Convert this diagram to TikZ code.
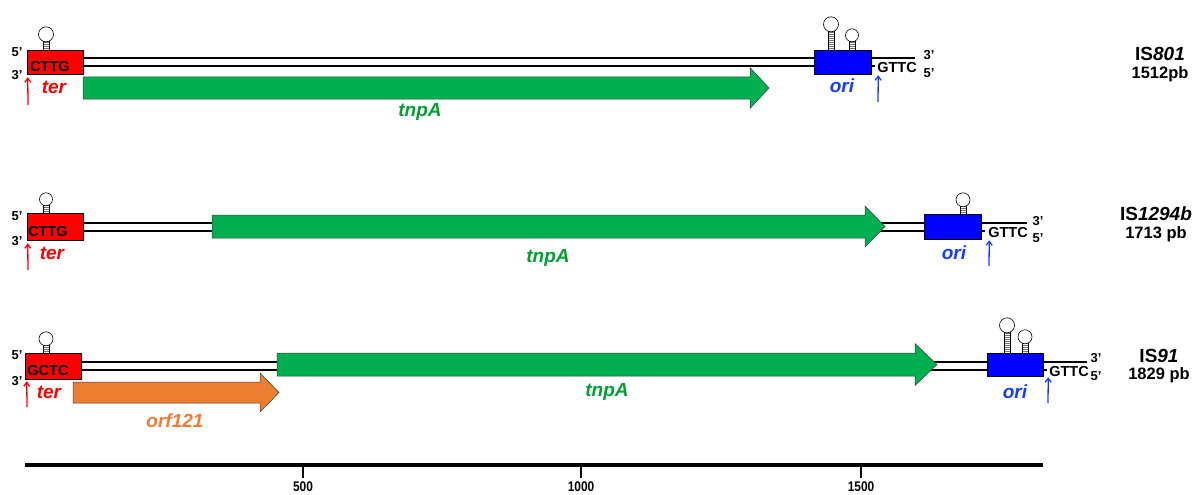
\documentclass[tikz,border=0pt]{standalone}
\usepackage{fontspec}
\setmainfont{Liberation Sans}
\usetikzlibrary{arrows.meta}
\definecolor{terred}{RGB}{255, 0, 0}
\definecolor{oriblue}{RGB}{0, 0, 255}
\definecolor{oritext}{RGB}{20, 60, 255}
\definecolor{tnpfill}{RGB}{0, 176, 80}
\definecolor{tnptext}{RGB}{0, 160, 50}
\definecolor{orffill}{RGB}{237, 125, 49}
\definecolor{outlinecolor}{RGB}{60, 60, 60}
\tikzset{
seqtext/.style={
  font=\fontsize{14.5}{14.5}\selectfont\bfseries,
  inner sep=0pt
},
endtext/.style={
  font=\fontsize{13}{13}\selectfont\bfseries,
  inner sep=0pt
},
featurelabel/.style={
  font=\fontsize{19}{19}\selectfont\bfseries\itshape,
  inner sep=0pt
},
islabel/.style={
  font=\fontsize{19}{19}\selectfont\bfseries,
  inner sep=0pt
},
sizelabel/.style={
  font=\fontsize{16.5}{16.5}\selectfont\bfseries,
  inner sep=0pt
},
terbox/.style={
  draw=black,
  line width=0.5pt,
  fill=terred,
  inner sep=0pt
},
oribox/.style={
  draw=black,
  line width=0.5pt,
  fill=oriblue,
  inner sep=0pt
},
strand/.style={
  draw=black,
  line width=1.6pt
},
genearrow/.style={
  draw=outlinecolor,
  line width=0.5pt,
  fill=tnpfill
},
orfarrow/.style={
  genearrow,
  fill=orffill
},
tersite/.style={
  -{Straight Barb[length=4pt,width=6pt]},
  line width=1.3pt,
  draw=terred
},
orisite/.style={
  tersite,
  draw=oritext
},
hairpinline/.style={
  draw=black,
  line width=0.6pt
},
rungline/.style={
  draw=black!55,
  line width=0.5pt
},
scaletext/.style={
  font=\fontsize{14}{14}\selectfont\bfseries,
  inner sep=0pt
}
}
% x, base y, stem length, loop radius
\newcommand\hairpin[4]{%
  \foreach \k in {2,4,...,#3} \draw[rungline] (#1-3,#2-\k) -- (#1+3,#2-\k);
  \draw[hairpinline] (#1-3,#2) -- (#1-3,#2-#3) (#1+3,#2) -- (#1+3,#2-#3);
  \draw[hairpinline, fill=white] (#1,#2-#3-#4+0.8) circle[radius=#4pt];
}

\begin{document}
\begin{tikzpicture}[x=1pt, y=-1pt]
  \useasboundingbox (0,0) rectangle (1197,495);

  % --- IS801 ---
  \def\c{62}
  \draw[strand] (83,\c-4) -- (915,\c-4);
  \draw[strand] (83,\c+4) -- (875,\c+4);
  \draw[genearrow] (83,77) -- (750,77) -- (750,67.5) -- (769,88) -- (750,108.5)
    -- (750,99) -- (83,99) -- cycle;
  \node[terbox, minimum width=56pt, minimum height=24pt] (ter1) at (55,\c) {};
  \node[oribox, minimum width=57pt, minimum height=24pt] (ori1) at (842.5,\c) {};
  \hairpin{46}{50}{9}{7.5}
  \hairpin{831}{50}{19}{7.5}
  \hairpin{852}{50}{9}{6.5}
  \node[seqtext] (seq1) at (50,67) {CTTG};
  \node[endtext] (five1) at (17,52) {5’};
  \node[endtext] (three1) at (17,75) {3’};
  \node[seqtext] (gttc1) at (897,68) {GTTC};
  \node[endtext] (three1r) at (929,55) {3’};
  \node[endtext] (five1r) at (929,73) {5’};
  \node[featurelabel, text=terred] (terl1) at (54,87) {ter};
  \node[featurelabel, text=tnptext] (tnpl1) at (420,112) {tnpA};
  \node[featurelabel, text=oritext] (oril1) at (842,86) {ori};
  \coordinate (terS1) at (28,105);
  \coordinate (oriS1) at (878,102);
  \draw[tersite] (terS1) -- ([xshift=1pt,yshift=-3pt]ter1.south west);
  \draw[orisite] (oriS1) -- ([xshift=7pt,yshift=-1pt]ori1.south east);
  \node[islabel] (is1) at (1160,54) {IS\textit{801}};
  \node[sizelabel] (len1) at (1160,74) {1512pb};

  % --- IS1294b ---
  \def\c{227}
  \draw[strand] (83,\c-4) -- (1027,\c-4);
  \draw[strand] (83,\c+4) -- (985,\c+4);
  \draw[genearrow] (212,215) -- (865,215) -- (865,206) -- (885,226.5) -- (865,247)
    -- (865,238) -- (212,238) -- cycle;
  \node[terbox, minimum width=56pt, minimum height=27pt] (ter2) at (55,226.5) {};
  \node[oribox, minimum width=57pt, minimum height=25pt] (ori2) at (952.5,226.5) {};
  \hairpin{46}{213}{8}{6.5}
  \hairpin{963}{214}{8}{7}
  \node[seqtext] (seq2) at (48,232) {CTTG};
  \node[endtext] (five2) at (17,216) {5’};
  \node[endtext] (three2) at (17,241) {3’};
  \node[seqtext] (gttc2) at (1008,233) {GTTC};
  \node[endtext] (three2r) at (1038,221) {3’};
  \node[endtext] (five2r) at (1038,238) {5’};
  \node[featurelabel, text=terred] (terl2) at (52,253) {ter};
  \node[featurelabel, text=tnptext] (tnpl2) at (548,258) {tnpA};
  \node[featurelabel, text=oritext] (oril2) at (954,253) {ori};
  \coordinate (terS2) at (28,270);
  \coordinate (oriS2) at (989,266);
  \draw[tersite] (terS2) -- ([xshift=1pt,yshift=-3pt]ter2.south west);
  \draw[orisite] (oriS2) -- ([xshift=8pt,yshift=-1pt]ori2.south east);
  \node[islabel] (is2) at (1156,214) {IS\textit{1294b}};
  \node[sizelabel] (len2) at (1156,234) {1713 pb};

  % --- IS91 ---
  \def\c{366}
  \draw[strand] (81,\c-4) -- (1087,\c-4);
  \draw[strand] (81,\c+4) -- (1047,\c+4);
  \draw[orfarrow] (73,382) -- (260,382) -- (260,373) -- (279,392.5) -- (260,412)
    -- (260,403) -- (73,403) -- cycle;
  \draw[genearrow] (277,353) -- (915,353) -- (915,343.5) -- (937,364.5) -- (915,385.5)
    -- (915,376) -- (277,376) -- cycle;
  \node[terbox, minimum width=56pt, minimum height=26pt] (ter3) at (53,366) {};
  \node[oribox, minimum width=56pt, minimum height=23pt] (ori3) at (1015,364.5) {};
  \hairpin{46}{353}{8}{7}
  \hairpin{1007}{353}{21}{7.5}
  \hairpin{1025}{353}{10}{7}
  \node[seqtext] (seq3) at (48,371) {GCTC};
  \node[endtext] (five3) at (17,355) {5’};
  \node[endtext] (three3) at (17,381) {3’};
  \node[seqtext] (gttc3) at (1069,372) {GTTC};
  \node[endtext] (three3r) at (1096,358) {3’};
  \node[endtext] (five3r) at (1096,376) {5’};
  \node[featurelabel, text=terred] (terl3) at (49,392) {ter};
  \node[featurelabel, text=orffill] (orfl3) at (175,421) {orf121};
  \node[featurelabel, text=tnptext] (tnpl3) at (607,392) {tnpA};
  \node[featurelabel, text=oritext] (oril3) at (1015,392) {ori};
  \coordinate (terS3) at (27,407);
  \coordinate (oriS3) at (1048,403);
  \draw[tersite] (terS3) -- ([xshift=2pt,yshift=-2pt]ter3.south west);
  \draw[orisite] (oriS3) -- ([xshift=5pt,yshift=-1pt]ori3.south east);
  \node[islabel] (is3) at (1159,356) {IS\textit{91}};
  \node[sizelabel] (len3) at (1159,375) {1829 pb};

  % --- scale ---
  \draw[line width=4pt] (25,465) -- (1043,465);
  \foreach \t/\lab in {303/500, 581/1000, 861/1500} {
    \draw[line width=1.3pt] (\t,466) -- (\t,478);
    \node[scaletext, xscale=0.85] (tick\lab) at (\t,487) {\lab};
  }
\end{tikzpicture}
\end{document}
